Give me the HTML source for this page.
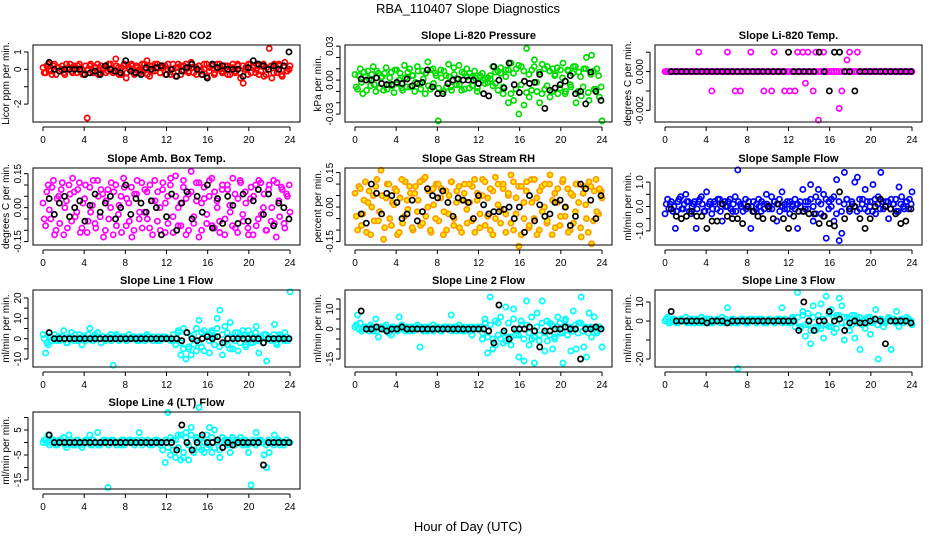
<!DOCTYPE html>
<html><head><meta charset="utf-8"><style>
html,body{margin:0;padding:0;background:#fff}
svg{display:block;font-family:"Liberation Sans",sans-serif}
</style></head><body>
<svg id="c" width="936" height="540" viewBox="0 0 936 540">
<text x="468" y="13" text-anchor="middle" font-size="13">RBA_110407  Slope Diagnostics</text>
<text x="468" y="531" text-anchor="middle" font-size="13">Hour of Day (UTC)</text>
</svg>
<script>
const xTicks=[0,4,8,12,16,20,24];
const p1c=[0.1,-0.2,0.3,-0.1,0.2,-0.3,0.1,0.0,-0.2,0.3,0.1,-0.1,0.2,-0.2,0.3,0.0,-0.3,-2.8,0.2,-0.1,0.1,0.3,-0.2,0.0,0.2,-0.1,0.3,-0.2,0.6,0.1,-0.3,0.2,-0.5,0.1,0.3,-0.2,0.2,0.0,-0.1,0.3,0.5,-0.4,0.2,-0.1,0.3,-0.2,0.1,0.2,0.0,-0.3,0.3,-0.4,0.1,0.2,-0.1,0.3,-0.2,0.4,0.1,-0.3,0.2,-0.1,0.3,-0.4,0.1,0.2,-0.2,0.3,0.0,-0.1,0.2,-0.3,0.1,0.3,-0.2,0.2,-0.5,-0.8,0.1,0.3,-0.2,0.2,0.0,-0.3,0.2,-0.4,0.1,1.2,-0.5,0.3,-0.2,0.2,-0.4,0.4,-0.1,0.2];
const p1c2=[-0.2,0.2,0.0,-0.3,0.3,0.1,-0.1,0.2,-0.3,0.0,0.3,-0.2,0.1,0.2,-0.1,-0.3,0.2,0.0,0.3,-0.2,0.1,-0.3,0.2,0.1,-0.2,0.3,0.0,-0.1,0.2,-0.3,0.1,0.3,-0.2,0.0,0.2,-0.3,0.1,-0.2,0.3,0.0,-0.3,0.2,-0.1,0.3,0.1,-0.2,0.2,-0.3,0.3,0.0,-0.2,0.1,0.3,-0.3,0.2,0.0,-0.1,0.3,-0.2,0.1,0.2,-0.3,0.0,0.3,-0.1,0.2,-0.3,0.1,0.3,-0.2,0.0,0.2,-0.3,0.1,-0.1,0.3,-0.2,0.2,0.0,-0.3,0.3,0.1,-0.2,0.2,-0.1,0.3,-0.3,0.0,0.2,-0.2,0.1,0.3,-0.3,0.2,-0.1,0.0];
const p1k=[0.4,0.0,-0.1,0.0,0.0,0.0,0.0,-0.3,-0.2,-0.1,-0.3,0.2,0.0,-0.1,-0.2,0.5,-0.1,-0.2,-0.3,0.1,0.0,0.1,0.2,-0.3,0.0,-0.4,-0.1,0.1,0.3,0.0,-0.3,-0.5,0.3,0.1,0.2,0.0,0.0,0.0,-0.4,0.1,0.5,0.3,0.2,0.0,0.2,0.0,0.2,1.0];
const p2c=[0.005,-0.008,0.01,-0.012,0.003,0.008,-0.005,0.012,-0.01,0.006,0.002,-0.009,0.011,-0.004,0.007,-0.011,0.009,0.0,-0.007,0.013,-0.006,0.01,0.004,-0.01,0.012,-0.003,0.008,-0.012,0.016,-0.008,0.01,0.006,-0.036,0.009,-0.01,0.004,0.014,-0.006,0.011,-0.004,0.013,-0.009,0.006,0.01,-0.007,0.003,0.008,-0.01,0.002,0.006,0.001,-0.002,0.004,0.012,-0.003,0.008,0.006,-0.012,0.009,-0.02,0.015,-0.018,0.01,-0.03,0.012,-0.022,0.028,-0.015,0.009,0.018,-0.01,-0.02,0.014,-0.008,0.012,-0.015,0.01,0.005,-0.012,0.009,0.015,-0.01,0.008,-0.006,0.012,-0.02,0.007,-0.014,0.01,0.02,-0.018,0.022,-0.008,0.01,-0.015,-0.036];
const p2c2=[-0.006,0.004,-0.002,0.007,-0.009,0.001,0.005,-0.004,0.008,-0.007,0.003,0.006,-0.008,0.002,-0.005,0.009,-0.003,0.006,-0.009,0.002,0.007,-0.006,0.004,-0.002,0.008,-0.008,0.001,0.006,-0.005,0.009,-0.003,0.004,-0.007,0.002,0.008,-0.006,0.003,-0.009,0.005,0.001,-0.004,0.007,-0.008,0.003,0.006,-0.005,0.002,-0.007,0.004,0.0,-0.003,0.002,0.001,-0.005,0.007,-0.009,0.011,-0.006,0.003,0.009,-0.012,0.006,-0.008,0.013,-0.004,0.008,-0.011,0.005,-0.009,0.012,-0.002,0.007,-0.012,0.01,-0.005,0.008,-0.01,0.004,0.011,-0.007,0.002,-0.012,0.009,-0.004,0.006,0.012,-0.01,0.003,-0.006,0.01,-0.011,0.005,0.008,-0.008,0.004,-0.006];
const p2k=[0.001,0.0,0.0,0.002,-0.003,-0.004,-0.004,-0.002,-0.003,0.001,-0.005,-0.003,-0.002,0.009,-0.006,-0.012,-0.012,-0.003,0.0,0.001,0.0,0.0,0.0,-0.003,-0.012,-0.014,0.012,0.0,-0.007,0.015,-0.004,-0.011,-0.001,-0.003,-0.002,0.005,-0.025,-0.009,-0.007,-0.004,-0.001,0.004,-0.012,-0.01,-0.021,0.007,-0.01,-0.018];
const p3c=[0,0,0,0,0,0,0,0,0,0,0,0,0,0.001,0,0,0,0,-0.001,0,0,0,0,0,0.001,0,0,-0.001,0,-0.001,0,0,0,0.001,0,0,0,0,-0.001,0,0,-0.001,0.001,0,0,0,-0.001,0,-0.001,0,-0.001,0.001,0,0.001,-0.0006,0.001,0,-0.001,0.001,-0.0025,0,0.001,0,0,0,0,0,-0.0019,-0.001,0,0.0006,0.001,0,0,0.001,0,0,0,0,0,0,0,0,0,0,0,0,0,0,0,0,0,0,0,0,0];
const p3c2=[0,0,0,0,0,0,0,0,0,0,0,0,0,0,0,0,0,0,0,0,0,0,0,0,0,0,0,0,0,0,0,0,0,0,0,0,0,0,0,0,0,0,0,0,0,0,0,0,0,0,0,0,0,0,0,0,0,0,0,0,0,0,0,0,0,0,0,0,0,0,0,0,0,0,0,0,0,0,0,0,0,0,0,0,0,0,0,0,0,0,0,0,0,0,0,0];
const p3k=[0,0,0,0,0,0,0,0,0,0,0,0,0,0,0,0,0,0,0,0,0,0,0,0.001,0,0,0,0,0,0.001,0,-0.001,0.001,0.001,0,0,-0.001,0,0,0,0,0,0,0,0,0,0,0];
const p4c=[0.02,-0.08,0.1,-0.05,0.12,-0.1,0.05,0.08,-0.12,0.03,0.1,-0.06,0.07,-0.02,0.11,-0.09,0.04,-0.11,0.09,0.01,-0.07,0.12,-0.04,0.06,-0.1,0.08,0.0,-0.12,0.1,-0.03,0.05,0.13,-0.08,0.02,0.09,-0.1,0.06,-0.05,0.11,-0.02,0.07,-0.09,0.03,0.12,-0.06,0.0,0.08,-0.11,0.05,0.1,-0.04,0.14,-0.08,0.02,0.09,-0.12,0.06,0.16,-0.07,0.03,0.11,-0.1,0.04,-0.03,0.12,-0.08,0.07,0.0,-0.11,0.1,-0.05,0.08,-0.02,0.13,-0.09,0.04,0.11,-0.06,0.02,-0.12,0.09,0.05,-0.08,0.12,-0.03,0.06,-0.1,0.1,0.0,-0.07,0.11,-0.04,0.08,-0.09,0.05,-0.02];
const p4c2=[-0.05,0.07,-0.01,0.09,-0.12,0.04,-0.07,0.11,0.0,-0.09,0.06,0.13,-0.04,0.08,-0.11,0.02,0.1,-0.06,-0.02,0.12,-0.09,0.05,0.08,-0.13,0.03,-0.05,0.11,0.07,-0.08,0.01,-0.11,0.09,0.04,-0.06,-0.13,0.06,0.12,-0.02,-0.09,0.08,-0.05,0.1,-0.12,0.03,0.07,-0.1,0.11,0.02,-0.07,0.13,-0.11,0.05,0.0,-0.08,0.12,0.04,-0.1,0.07,-0.04,0.11,-0.13,0.02,0.09,-0.07,0.05,0.13,-0.09,0.03,-0.06,0.08,-0.12,0.1,0.01,-0.08,0.06,-0.11,0.12,-0.03,0.07,-0.09,0.04,-0.12,0.1,-0.05,0.11,0.0,-0.1,0.08,-0.06,0.12,-0.13,0.03,0.09,-0.07,0.06,0.1];
const p4k=[0.04,-0.03,0.02,0.05,-0.04,0.0,0.03,-0.06,0.01,0.06,-0.02,0.02,0.05,-0.05,0.0,0.1,-0.03,0.04,0.02,-0.02,0.03,0.0,-0.12,-0.04,0.06,-0.1,0.02,0.07,-0.05,0.05,-0.02,0.1,-0.09,0.04,-0.07,0.05,0.01,-0.07,0.06,-0.06,0.03,0.08,-0.03,0.06,-0.08,0.02,0.0,-0.05];
const p5c=[0.06,-0.1,0.08,-0.03,0.11,0.02,-0.12,0.05,0.09,-0.06,0.16,-0.14,0.04,0.1,-0.08,0.01,0.07,-0.11,0.12,-0.04,0.03,0.09,-0.09,0.06,-0.02,0.11,-0.07,0.13,0.0,-0.1,0.08,-0.05,0.1,0.04,-0.12,0.07,-0.03,0.11,-0.08,0.02,0.09,-0.11,0.06,-0.01,0.1,-0.06,0.12,0.03,-0.09,0.05,0.11,-0.04,0.08,-0.12,0.13,0.01,-0.07,0.1,-0.03,0.06,0.14,-0.1,0.04,-0.17,0.09,-0.05,0.11,-0.08,0.02,0.12,-0.12,0.07,-0.02,0.1,-0.06,0.14,0.03,-0.09,0.08,-0.04,0.12,0.0,-0.11,0.06,-0.07,0.1,0.02,-0.13,0.09,-0.05,0.11,-0.16,0.07,-0.02,0.08,0.04];
const p5c2=[-0.04,0.09,-0.08,0.03,-0.11,0.07,0.0,-0.06,0.12,-0.02,0.05,-0.09,0.1,-0.05,0.02,0.08,-0.12,0.04,-0.07,0.11,-0.01,0.06,-0.1,0.09,0.03,-0.08,0.12,-0.04,0.07,-0.11,0.01,0.1,-0.06,0.08,-0.02,-0.1,0.05,0.11,-0.05,0.07,-0.09,0.03,0.1,-0.07,0.02,0.09,-0.11,0.06,-0.03,0.12,-0.08,0.04,-0.1,0.07,-0.05,0.1,-0.01,0.08,-0.11,0.05,-0.07,0.11,-0.03,0.09,-0.12,0.02,0.07,-0.09,0.12,-0.05,0.04,-0.1,0.09,0.0,-0.07,0.1,-0.12,0.06,0.02,-0.08,0.11,-0.04,0.08,-0.1,0.05,-0.02,0.1,-0.09,0.06,0.01,-0.11,0.09,-0.06,0.12,-0.03,0.07];
const p5k=[-0.03,-0.07,0.1,0.06,-0.03,0.06,0.05,0.02,-0.05,-0.03,0.03,-0.06,-0.02,0.08,0.05,0.04,0.07,0.02,-0.04,0.04,0.03,0.02,-0.05,0.05,0.01,-0.03,-0.02,-0.02,-0.01,0.0,-0.05,0.0,-0.11,0.05,-0.06,0.01,-0.04,-0.03,0.02,0.03,0.0,-0.08,-0.04,0.1,0.08,0.03,-0.05,0.05];
const p6c=[-0.3,0.3,0.1,-0.2,-0.9,0.2,0.4,-0.1,0.5,0.2,-0.3,0.1,-0.9,0.2,0.4,-0.2,0.6,0.1,-0.3,0.2,-0.1,0.3,-0.6,0.2,0.0,0.3,-0.2,0.4,1.5,0.1,-0.2,0.3,0.0,-0.9,0.2,-0.1,0.3,-0.2,0.1,0.5,-0.1,0.4,0.2,-0.6,0.3,0.6,-0.1,0.2,-0.3,0.1,0.3,-0.9,0.2,0.7,-0.1,0.2,0.9,-0.6,0.4,0.7,-0.3,0.5,-1.3,0.2,0.3,-0.6,1.1,-1.4,-1.1,1.4,0.3,-0.2,0.1,1.0,1.2,-0.1,0.3,0.7,-0.2,0.2,0.9,-0.3,0.4,1.4,-0.1,0.2,-0.5,0.3,0.1,-0.2,0.8,0.4,-0.1,0.2,0.3,0.6];
const p6c2=[0.1,-0.1,0.2,0.0,-0.2,0.3,-0.1,0.1,0.2,-0.2,0.0,0.2,-0.1,0.3,0.1,-0.2,0.0,0.2,-0.1,0.1,0.3,-0.2,0.1,0.0,0.2,-0.1,0.1,-0.2,0.2,0.0,0.1,-0.1,0.2,0.0,-0.2,0.1,0.0,0.2,-0.1,0.1,0.0,-0.1,0.2,0.1,-0.2,0.0,0.1,-0.1,0.2,0.0,-0.1,0.1,0.0,-0.2,0.2,-0.1,0.3,0.0,-0.3,0.2,0.1,-0.4,0.3,-0.1,0.0,0.4,-0.3,0.2,-0.2,0.1,0.3,-0.1,0.2,0.0,-0.2,0.3,0.1,-0.1,0.2,0.0,-0.2,0.3,0.1,-0.1,0.2,0.0,0.2,-0.1,0.1,0.3,-0.2,0.1,0.0,0.2,-0.1,0.1];
const p6k=[-0.1,-0.4,-0.5,-0.4,-0.2,-0.4,-0.4,-0.9,-0.6,-0.6,0.1,-0.4,-0.5,-0.5,-0.7,0.0,-0.2,-0.4,-0.5,0.0,-0.5,0.1,-0.5,-0.9,-0.4,-0.2,-0.2,-0.3,-0.3,-0.7,-0.4,-0.7,-0.8,0.6,-0.5,-0.1,0.0,-0.5,-0.9,-0.5,0.0,0.3,0.0,-0.1,-0.3,-0.7,-0.6,-0.1];
const p7c=[2,-7,-3,1,0,-1,1,0,4,-2,1,3,-1,0,2,-3,1,0,5,-1,2,3,0,1,-1,0,2,-13,1,0,1,0,-1,2,0,1,0,-1,1,0,2,0,1,0,-1,0,1,0,0,0,-1,0,3,-8,5,-10,-5,-8,2,-6,9,-4,4,2,-7,3,1,10,14,-8,6,-3,8,-5,3,-6,1,2,-4,4,-2,1,6,-7,0,2,-11,1,0,7,-3,2,1,3,-1,23];
const p7c2=[0,-2,1,-1,2,0,-1,1,0,-2,1,0,2,-1,0,1,-1,2,0,-1,1,0,-2,1,0,1,-1,0,2,-1,0,1,-1,0,1,0,-1,1,0,-1,1,0,-1,0,1,-1,0,1,0,-1,2,-3,4,-2,-5,3,-4,1,-3,5,-2,3,-6,2,-1,4,-3,5,-4,2,-2,3,-5,1,-1,3,-2,4,-3,1,2,-2,3,-1,1,-2,2,0,-1,2,-2,1,0,-1,1,0];
const p7k=[3,0,0,0,0,0,0,0,0,0,0,0,0,0,0,0,0,0,0,0,0,0,0,0,0,0,-1,3,0,-1,0,1,0,1,-2,0,0,0,0,0,0,0,-2,0,0,0,0,0];
const p8c=[1,7,3,0,1,0,2,-1,5,-4,1,0,2,-2,-3,1,0,6,2,1,0,-1,1,0,2,-9,0,1,-1,0,2,0,1,-1,0,1,0,7,1,-1,2,0,-1,0,1,-3,0,1,0,-5,5,-12,16,-10,-8,3,-5,-7,11,-4,-8,10,-3,-14,2,-16,14,-8,-5,-17,8,-3,14,-11,-6,3,-10,-4,6,-2,-17,5,1,-11,9,-10,3,16,-9,-14,8,-4,6,-2,1,-9];
const p8c2=[2,0,-1,1,0,-1,1,0,-1,1,0,1,-1,0,1,0,-1,1,0,-1,1,0,-1,1,0,1,-1,0,1,0,-1,1,0,-1,1,0,1,-1,0,1,0,-1,1,0,-1,1,0,0,1,-2,3,-4,2,-5,4,-3,6,-2,-6,3,-4,5,-1,-3,4,-5,2,-2,6,-4,1,-6,3,-2,4,-3,2,-5,1,3,-2,4,-3,1,-1,2,-2,3,-1,1,-2,1,0,-1,1,0];
const p8k=[9,0,0,1,0,-1,0,0,1,0,0,0,0,0,0,0,0,0,0,0,0,0,0,0,0,-1,-7,12,-1,-5,0,0,0,1,-1,-9,-1,-1,0,0,1,0,0,-15,0,0,1,0];
const p9c=[0,2,-1,1,0,-1,1,0,2,0,-1,1,0,-1,2,0,1,-1,0,0,1,0,2,-1,7,0,1,-1,-25,0,1,0,-1,1,0,0,1,0,-1,0,1,0,0,0,1,7,0,-1,0,1,0,15,-3,5,-8,-2,-12,8,-5,-3,9,-9,13,-3,6,-6,3,12,8,-10,2,-5,3,-9,1,-15,0,-4,2,-7,0,6,-20,1,-3,0,2,-15,1,5,-3,1,0,2,0,-2];
const p9c2=[1,-1,0,1,-1,0,1,0,-1,1,0,-1,1,0,-1,1,0,1,-1,0,1,-1,0,1,0,-1,1,0,-1,1,0,-1,1,0,1,-1,0,1,0,-1,1,0,-1,1,0,-1,1,0,-1,2,-3,2,-4,3,-2,4,-5,2,-3,3,-4,1,-2,4,-3,2,-4,3,-1,2,-3,1,-2,3,-1,2,-2,1,-1,2,-1,1,-2,1,0,-1,1,0,1,-1,0,1,-1,0,1,0];
const p9k=[5,0,0,0,0,0,0,-1,0,0,0,-1,0,0,0,0,0,0,0,0,0,0,0,0,0,-5,10,0,-5,0,0,5,0,1,-5,-1,0,-1,-1,0,1,0,-12,0,0,0,0,-1];
const p10c=[0,1,3,0,1,-1,0,1,2,-2,3,0,-1,1,0,-2,0,1,3,-1,0,4,-1,0,1,-18,0,1,0,0,-1,1,0,0,1,0,0,4,1,0,0,-1,0,0,1,0,-3,-8,12,-5,1,-6,3,-7,-6,4,-7,6,-4,2,14,-3,0,-2,6,-4,5,0,-6,2,1,-1,-4,1,0,0,2,1,-1,-4,-17,0,4,1,0,-5,-10,-4,0,3,1,-1,0,0,0,0];
const p10c2=[1,0,-1,1,0,-1,1,0,-1,0,1,-1,0,1,-1,0,1,0,-1,1,0,-1,0,1,0,-1,1,0,-1,0,1,-1,0,1,0,-1,1,0,-1,0,1,0,-1,1,0,-1,0,1,-2,2,-3,1,-2,3,-4,2,-1,3,-3,1,-2,2,-4,3,-1,2,-2,1,-3,2,0,1,-1,2,-1,1,0,-1,1,-1,0,1,-1,0,1,0,-1,1,0,-1,0,1,0,-1,1,0];
const p10k=[3,0,0,0,0,0,0,0,0,0,0,0,0,0,0,0,0,0,0,0,0,0,0,0,0,-3,7,0,-3,0,3,0,0,1,-2,0,-1,0,0,0,0,0,-9,0,0,0,0,0];

const NS='http://www.w3.org/2000/svg';
const svg=document.getElementById('c');
function mk(tag,attrs,parent){const e=document.createElementNS(NS,tag);for(const k in attrs)e.setAttribute(k,attrs[k]);(parent||svg).appendChild(e);return e;}
const cols=[33,345,655], rows=[45,168,290,412], W=267, H=77;
const panels=[
 {t:'Slope Li-820 CO2',yl:'Licor ppm per min.',c:p1c,c2:p1c2,k:p1k,col:'#ff0000',lo:-3.03,hi:1.4,ticks:[-2,-1,0,1],labs:['-2','','0','1']},
 {t:'Slope Li-820 Pressure',yl:'kPa per min.',c:p2c,c2:p2c2,k:p2k,col:'#00dd00',lo:-0.037,hi:0.031,ticks:[-0.03,-0.02,-0.01,0,0.01,0.02,0.03],labs:['-0.03','','','0.00','','','0.03']},
 {t:'Slope Li-820 Temp.',yl:'degrees C per min.',c:p3c,c2:p3c2,k:p3k,col:'#ff00ff',lo:-0.0026,hi:0.00137,ticks:[-0.002,-0.001,0,0.001],labs:['-0.002','','0.000','']},
 {t:'Slope Amb. Box Temp.',yl:'degrees C per min.',c:p4c,c2:p4c2,k:p4k,col:'#ff00ff',lo:-0.165,hi:0.175,ticks:[-0.15,-0.1,-0.05,0,0.05,0.1,0.15],labs:['-0.15','','','0.00','','','0.15']},
 {t:'Slope Gas Stream RH',yl:'percent per min.',c:p5c,c2:p5c2,k:p5k,col:'#ff9900',col2:'#ffee00',lo:-0.165,hi:0.17,ticks:[-0.15,-0.1,-0.05,0,0.05,0.1,0.15],labs:['-0.15','','','0.00','','','0.15']},
 {t:'Slope Sample Flow',yl:'ml/min per min.',c:p6c,c2:p6c2,k:p6k,col:'#0000ff',lo:-1.58,hi:1.58,ticks:[-1,-0.5,0,0.5,1],labs:['-1.0','','0.0','','1.0']},
 {t:'Slope Line 1 Flow',yl:'ml/min per min.',c:p7c,c2:p7c2,k:p7k,col:'#00ffff',lo:-13.9,hi:23.9,ticks:[-10,-5,0,5,10,15,20],labs:['-10','','0','','10','','20']},
 {t:'Slope Line 2 Flow',yl:'ml/min per min.',c:p8c,c2:p8c2,k:p8k,col:'#00ffff',lo:-19,hi:19.5,ticks:[-15,-10,-5,0,5,10,15],labs:['-15','','','0','','10','']},
 {t:'Slope Line 3 Flow',yl:'ml/min per min.',c:p9c,c2:p9c2,k:p9k,col:'#00ffff',lo:-24.2,hi:16.3,ticks:[-20,-10,0,10],labs:['-20','','0','10']},
 {t:'Slope Line 4 (LT) Flow',yl:'ml/min per min.',c:p10c,c2:p10c2,k:p10k,col:'#00ffff',lo:-18.6,hi:12.2,ticks:[-15,-10,-5,0,5,10],labs:['-15','','-5','','5','']}
];
panels.forEach((p,pi)=>{
 const x0=cols[pi%3], y0=rows[Math.floor(pi/3)];
 const g=mk('g',{});
 
 
 const sx=h=>x0+10+h*247/24;
 const sy=v=>y0+H-(v-p.lo)/(p.hi-p.lo)*H;
 const ti=mk('text',{x:x0+W/2,y:y0-6,'text-anchor':'middle','font-size':11,'font-weight':'bold'},g);ti.textContent=p.t;
 
 
 const cg=mk('g',{},g);
 
 
 p.c2.forEach((v,i)=>{
  const c=mk('circle',{cx:sx(0.12+i*23.8/(p.c2.length-1)),cy:sy(v),r:2.6,fill:p.col2||'none',stroke:p.col,'stroke-width':1.7},cg);
  
  
 });
 p.c.forEach((v,i)=>{
  const c=mk('circle',{cx:sx(i*24/(p.c.length-1)),cy:sy(v),r:2.6,fill:p.col2||'none',stroke:p.col,'stroke-width':1.7},cg);
  
  
 });
 const kg=mk('g',{},g);
 
 
 p.k.forEach((v,i)=>{
  const c=mk('circle',{cx:sx(0.6+i*23.3/(p.k.length-1)),cy:sy(v),r:2.6,fill:'none',stroke:'#000','stroke-width':1.7},kg);
  
  
 });
 const b=mk('rect',{x:x0,y:y0,width:W,height:H,fill:'none',stroke:'#000','stroke-width':1},g);
 
 
 mk('line',{x1:sx(0),x2:sx(24),y1:y0+H+5,y2:y0+H+5,stroke:'#000'},g);
 xTicks.forEach(t=>{
  mk('line',{x1:sx(t),x2:sx(t),y1:y0+H+5,y2:y0+H+9,stroke:'#000'},g);
  const tx=mk('text',{x:sx(t),y:y0+H+21,'text-anchor':'middle','font-size':10},g);tx.textContent=t;
  
  
 });
 mk('line',{x1:x0-5,x2:x0-5,y1:sy(p.ticks[0]),y2:sy(p.ticks[p.ticks.length-1]),stroke:'#000'},g);
 p.ticks.forEach((t,i)=>{
  mk('line',{x1:x0-9,x2:x0-5,y1:sy(t),y2:sy(t),stroke:'#000'},g);
  if(p.labs[i]){const tx=mk('text',{x:x0-12,y:sy(t),'text-anchor':'middle','font-size':10,transform:`rotate(-90 ${x0-12} ${sy(t)})`},g);tx.textContent=p.labs[i];
  
  }
 });
 const yl=mk('text',{x:x0-24,y:y0+H/2,'text-anchor':'middle','font-size':10,transform:`rotate(-90 ${x0-24} ${y0+H/2})`},g);yl.textContent=p.yl;
 
 
});
</script>
</body></html>
